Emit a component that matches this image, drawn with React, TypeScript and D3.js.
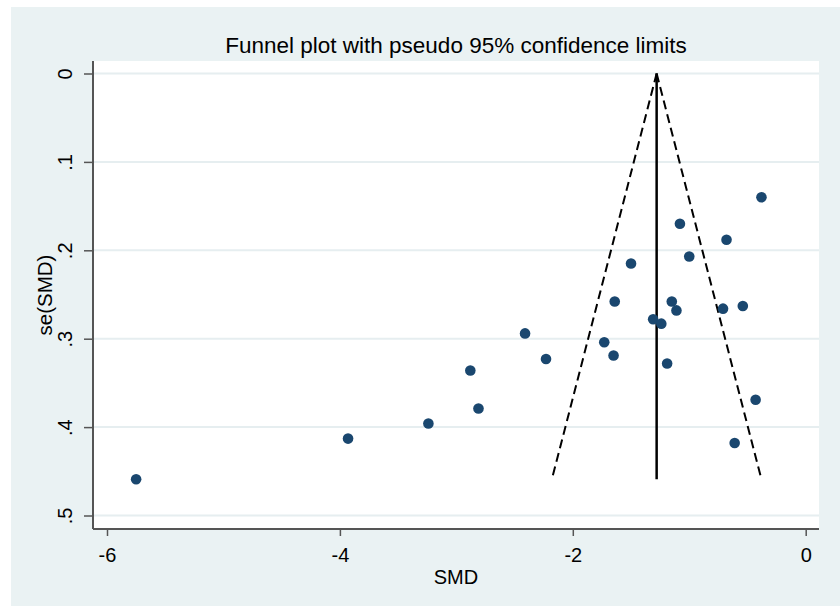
import React, { useRef, useEffect } from "react";
import * as d3 from "d3";

// study effects (SMD) and their standard errors
const smd = [
  -5.75, -3.93, -3.24, -2.88, -2.81, -2.41, -2.23, -1.73, -1.64, -1.65, -1.5, -1.31,
  -1.24, -1.19, -1.15, -1.11, -1.08, -1.0, -0.68, -0.71, -0.54, -0.38, -0.43, -0.61,
];
const seSmd = [
  0.459, 0.413, 0.396, 0.336, 0.379, 0.294, 0.323, 0.304, 0.258, 0.319, 0.215, 0.278,
  0.283, 0.328, 0.258, 0.268, 0.17, 0.207, 0.188, 0.266, 0.263, 0.14, 0.369, 0.418,
];
const pooled = -1.28;
const xTicks = [-6, -4, -2, 0];
const yTicks = [0, 0.1, 0.2, 0.3, 0.4, 0.5];
const yTickLabels = ["0", ".1", ".2", ".3", ".4", ".5"];

const W = 840;
const H = 606;
const FONT = "'Liberation Sans', Arial, sans-serif";

const App: React.FC = () => {
  const svgRef = useRef<SVGSVGElement | null>(null);

  useEffect(() => {
    if (!svgRef.current) return;
    document.body.style.margin = "0";
    const svg = d3.select(svgRef.current);
    svg.selectAll("*").remove();

    // plot region
    const plot = { left: 93, right: 819, top: 61, bottom: 529 };

    const x = d3.scaleLinear().domain([-6, 0]).range([107, 805.7]);
    const y = d3.scaleLinear().domain([0, 0.5]).range([73.5, 515.5]);

    // backgrounds
    svg.append("rect").attr("width", W).attr("height", H).attr("fill", "#ffffff");
    svg
      .append("rect")
      .attr("x", 11)
      .attr("y", 7)
      .attr("width", W - 11)
      .attr("height", H - 7)
      .attr("fill", "#eaf2f3");
    svg
      .append("rect")
      .attr("x", plot.left)
      .attr("y", plot.top)
      .attr("width", plot.right - plot.left)
      .attr("height", plot.bottom - plot.top)
      .attr("fill", "#ffffff");

    // gridlines
    svg
      .append("g")
      .selectAll("line")
      .data(yTicks)
      .enter()
      .append("line")
      .attr("x1", plot.left)
      .attr("x2", plot.right)
      .attr("y1", (d) => y(d))
      .attr("y2", (d) => y(d))
      .attr("stroke", "#e6eef0")
      .attr("stroke-width", 2);

    // funnel limits
    const maxSe = d3.max(seSmd)!;
    const lower: [number, number][] = [
      [pooled, 0],
      [pooled - 1.96 * maxSe, maxSe],
    ];
    const upper: [number, number][] = [
      [pooled, 0],
      [pooled + 1.96 * maxSe, maxSe],
    ];
    const line = d3
      .line<[number, number]>()
      .x((d) => x(d[0]))
      .y((d) => y(d[1]));
    [lower, upper].forEach((pts) => {
      svg
        .append("path")
        .attr("d", line(pts))
        .attr("fill", "none")
        .attr("stroke", "#000")
        .attr("stroke-width", 2)
        .attr("stroke-dasharray", "9,5");
    });
    svg
      .append("path")
      .attr("d", line([
        [pooled, 0],
        [pooled, maxSe],
      ]))
      .attr("fill", "none")
      .attr("stroke", "#000")
      .attr("stroke-width", 2.5);

    // points
    svg
      .append("g")
      .selectAll("circle")
      .data(smd.map((v, i) => ({ v, se: seSmd[i] })))
      .enter()
      .append("circle")
      .attr("cx", (d) => x(d.v))
      .attr("cy", (d) => y(d.se))
      .attr("r", 5.3)
      .attr("fill", "#1a476f");

    // axes
    const axisColor = "#555";
    const xAxis = svg
      .append("g")
      .attr("transform", `translate(0,${plot.bottom})`)
      .call(d3.axisBottom(x).tickValues(xTicks).tickFormat(d3.format("d")).tickSize(7).tickSizeOuter(0));
    xAxis.select(".domain").attr("d", `M${plot.left},0H${plot.right}`).attr("stroke", axisColor).attr("stroke-width", 2);
    xAxis.selectAll(".tick line").attr("stroke", axisColor).attr("stroke-width", 1.5);
    xAxis
      .selectAll(".tick text")
      .attr("y", 33)
      .attr("dy", 0)
      .attr("fill", "#000")
      .style("font-family", FONT)
      .style("font-size", "20px")
      .text((d: any) => (d < 0 ? "-" + Math.abs(d) : String(d)));

    const yAxis = svg
      .append("g")
      .attr("transform", `translate(${plot.left},0)`)
      .call(
        d3
          .axisLeft(y)
          .tickValues(yTicks)
          .tickFormat((_, i) => yTickLabels[i])
          .tickSize(9)
          .tickSizeOuter(0)
      );
    yAxis.select(".domain").attr("d", `M0,${plot.top}V${plot.bottom}`).attr("stroke", axisColor).attr("stroke-width", 2);
    yAxis.selectAll(".tick line").attr("stroke", axisColor).attr("stroke-width", 1.5);
    yAxis
      .selectAll(".tick text")
      .attr("x", 0)
      .attr("dy", 0)
      .attr("transform", "translate(-21,0) rotate(-90)")
      .attr("text-anchor", "middle")
      .attr("fill", "#000")
      .style("font-family", FONT)
      .style("font-size", "20px");

    // titles
    svg
      .append("text")
      .attr("x", (plot.left + plot.right) / 2)
      .attr("y", 53)
      .attr("text-anchor", "middle")
      .style("font-family", FONT)
      .style("font-size", "22.5px")
      .attr("fill", "#000")
      .text("Funnel plot with pseudo 95% confidence limits");
    svg
      .append("text")
      .attr("x", (plot.left + plot.right) / 2)
      .attr("y", 584)
      .attr("text-anchor", "middle")
      .style("font-family", FONT)
      .style("font-size", "20px")
      .attr("fill", "#000")
      .text("SMD");
    svg
      .append("text")
      .attr("transform", `translate(52,${(plot.top + plot.bottom) / 2}) rotate(-90)`)
      .attr("text-anchor", "middle")
      .style("font-family", FONT)
      .style("font-size", "20.5px")
      .attr("fill", "#000")
      .text("se(SMD)");
  }, []);

  return <svg ref={svgRef} width={W} height={H} style={{ display: "block" }}></svg>;
};

export default App;
